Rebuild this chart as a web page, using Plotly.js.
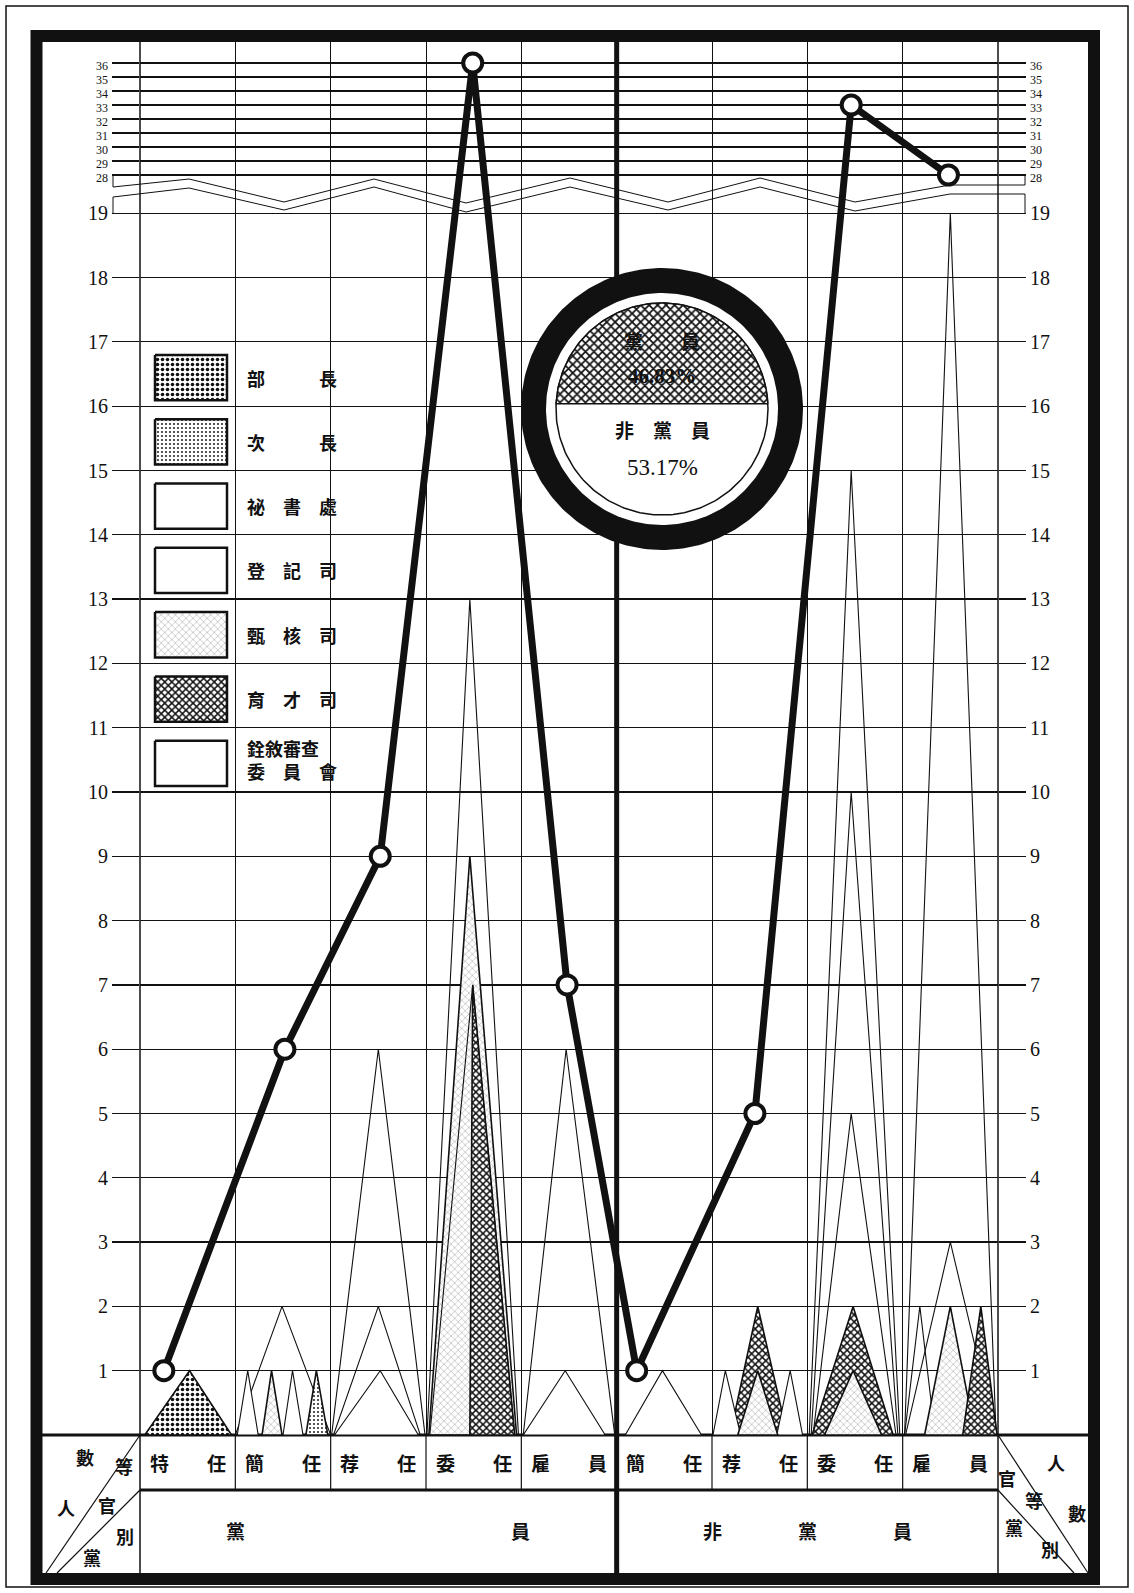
<!DOCTYPE html>
<html><head><meta charset="utf-8">
<script src="https://cdn.plot.ly/plotly-3.0.1.min.js"></script>
<style>html,body{margin:0;padding:0;background:#fff}</style>
</head><body>
<div id="chart" style="width:1134px;height:1593px"></div>
<script>
// ---------------- DATA ----------------
const groups = ['黨員', '非黨員'];
const groupColumns = [5, 4];
const ranks = ['特任', '簡任', '荐任', '委任', '雇員', '簡任', '荐任', '委任', '雇員'];
const totals = [1, 6, 9, 36, 7, 1, 5, 33, 28];
const sharePct = [46.83, 53.17];
const departments = ['部長', '次長', '祕書處', '登記司', '甄核司', '育才司', '銓敘審查委員會'];
const deptBuZhang  = [1, 0, 0, 0, 0, 0, 0, 0, 0];
const deptCiZhang  = [0, 1, 0, 0, 0, 0, 0, 0, 0];
const deptMishu    = [0, 1, 2, 7, 6, 1, 1, 10, 19];
const deptDengji   = [0, 2, 6, 13, 1, 0, 1, 15, 2];
const deptZhenhe   = [0, 1, 0, 9, 0, 0, 1, 1, 2];
const deptYucai    = [0, 0, 0, 7, 0, 0, 2, 2, 2];
const deptWeiyuan  = [0, 1, 1, 0, 0, 0, 0, 5, 3];
const lowTicks  = [1,2,3,4,5,6,7,8,9,10,11,12,13,14,15,16,17,18,19];
const highTicks = [28,29,30,31,32,33,34,35,36];
const cornerLeft  = ['數', '等', '人', '官', '別', '黨'];
const cornerRight = ['人', '官', '等', '數', '黨', '別'];

// ---------------- STYLE / GEOMETRY ----------------
const INK = '#111';
const CJK = '"Noto Sans CJK TC","Noto Sans CJK SC",sans-serif';
const SERIF = '"Liberation Serif","DejaVu Serif",serif';
const L = 140, R = 998, T = 42, B = 1435;          // plot area in px
const COLW = (R - L) / 9;
const UNIT = 64.3;                                  // px per person, lower part
const Y_TOP = (B - T) / UNIT;
const BREAK_LOW = 19, BREAK_HIGH = 28;
const HIGH_BASE = (B - 175) / UNIT, HIGH_STEP = 14 / UNIT;
function yd(v) { return v <= BREAK_LOW ? v : HIGH_BASE + (v - BREAK_HIGH) * HIGH_STEP; }
const px = X => (X - L) / (R - L);
const py = Y => (B - Y) / (B - T);

const deptValues = [deptBuZhang, deptCiZhang, deptMishu, deptDengji, deptZhenhe, deptYucai, deptWeiyuan];
// triangle geometry per department / column: [apex, left, right] as fraction of column width
const triShape = {
  0: {0: [0.52, 0.05, 0.96]},
  1: {1: [0.85, 0.74, 0.97]},
  2: {1: [0.13, 0.02, 0.24], 2: [0.5, 0.03, 0.94], 3: [0.49, 0.04, 0.93], 4: [0.47, 0.02, 0.98], 5: [0.48, 0.09, 0.89], 6: [0.14, 0.01, 0.3], 7: [0.46, 0.04, 0.95], 8: [0.5, 0.02, 0.98]},
  3: {1: [0.49, 0.0, 1.0], 2: [0.5, 0.01, 0.99], 3: [0.46, 0.01, 0.97], 4: [0.46, 0.02, 0.88], 6: [0.82, 0.68, 0.95], 7: [0.46, 0.02, 0.97], 8: [0.18, 0.02, 0.34]},
  4: {1: [0.38, 0.28, 0.49], 3: [0.46, 0.03, 0.95], 6: [0.48, 0.27, 0.69], 7: [0.48, 0.18, 0.78], 8: [0.5, 0.23, 0.76]},
  5: {3: [0.49, 0.46, 0.93], 6: [0.48, 0.19, 0.79], 7: [0.48, 0.05, 0.9], 8: [0.82, 0.63, 0.99]},
  6: {1: [0.6, 0.5, 0.71], 2: [0.52, 0.04, 0.92], 7: [0.46, 0.06, 0.93], 8: [0.5, 0.03, 0.98]}
};
const patterns = {
  0: {shape: '.', size: 5, solidity: 0.4},
  1: {shape: '.', size: 4, solidity: 0.18},
  4: {shape: 'x', size: 5, solidity: 0.08},
  5: {shape: 'x', size: 5, solidity: 0.5}
};
const pointFrac = [0.25, 0.52, 0.52, 0.49, 0.48, 0.21, 0.45, 0.46, 0.48];
const PIE = {cx: 662, cy: 409, rOuter: 141, rRing: 116, rInner: 106};

// ---------------- TRACES ----------------
const traces = [];
const tris = [];
deptValues.forEach((vals, d) => vals.forEach((v, c) => { if (v > 0) tris.push({d, c, v, g: triShape[d][c]}); }));
tris.sort((a, b) => (b.v - a.v) || ((patterns[a.d] ? 1 : 0) - (patterns[b.d] ? 1 : 0)));
tris.forEach(t => {
  const [ap, lf, rt] = t.g;
  const tr = {type: 'scatter', mode: 'lines', xaxis: 'x', yaxis: 'y',
    x: [t.c + lf, t.c + ap, t.c + rt, t.c + lf], y: [0, yd(t.v), 0, 0],
    fill: 'toself', line: {color: INK, width: 1.1}, hoverinfo: 'skip', showlegend: false};
  const p = patterns[t.d];
  if (p) { tr.fillcolor = 'white'; tr.fillpattern = Object.assign({fgcolor: INK, bgcolor: 'white', fillmode: 'replace'}, p); tr.line.width = 1.6; }
  else tr.fillcolor = t.v <= 1 ? 'white' : 'rgba(0,0,0,0)';
  traces.push(tr);
});

traces.push({type: 'scatter', mode: 'lines+markers', xaxis: 'x', yaxis: 'y',
  x: totals.map((_, i) => i + pointFrac[i]), y: totals.map(yd),
  line: {color: INK, width: 7}, marker: {symbol: 'circle', size: 19, color: 'white', line: {color: INK, width: 4}},
  hoverinfo: 'skip', showlegend: false});

// right axis carrier
traces.push({type: 'scatter', mode: 'markers', x: [0.5], y: [null], xaxis: 'x', yaxis: 'y3', showlegend: false, hoverinfo: 'skip'});

// legend swatches (pixel overlay axes)
const legendAnn = [];
departments.forEach((name, k) => {
  const top = B - (17 - k) * UNIT + 13, bot = B - (16 - k) * UNIT - 6;
  const tr = {type: 'scatter', mode: 'lines', xaxis: 'x2', yaxis: 'y2',
    x: [155, 227, 227, 155, 155], y: [top, top, bot, bot, top], fill: 'toself', fillcolor: 'white',
    line: {color: INK, width: 2.5}, hoverinfo: 'skip', showlegend: false};
  if (patterns[k]) tr.fillpattern = Object.assign({fgcolor: INK, bgcolor: 'white', fillmode: 'replace'}, patterns[k]);
  traces.push(tr);
  let txt, yc = (top + bot) / 2;
  if (name.length === 2) txt = name.split('').join('　　　');
  else if (name.length === 3) txt = name.split('').join('　');
  else { txt = name.slice(0, 4) + '<br>' + name.slice(4).split('').join('　'); yc -= 4; }
  legendAnn.push({x: px(245), y: py(yc), xref: 'paper', yref: 'paper', xanchor: 'left', yanchor: 'middle', showarrow: false, align: 'left',
    text: '<b>' + txt + '</b>', font: {family: CJK, size: 18, color: INK}});
});

// pie (circle split by chord of equal area ratio)
function circlePts(cx, cy, r) { const xs = [], ys = []; for (let i = 0; i <= 240; i++) { const a = 2 * Math.PI * i / 240; xs.push(cx + r * Math.cos(a)); ys.push(cy + r * Math.sin(a)); } return [xs, ys]; }
function disk(r, fill, lw) { const [xs, ys] = circlePts(PIE.cx, PIE.cy, r);
  return {type: 'scatter', mode: 'lines', xaxis: 'x2', yaxis: 'y2', x: xs, y: ys, fill: 'toself', fillcolor: fill,
    line: {color: INK, width: lw}, hoverinfo: 'skip', showlegend: false}; }
traces.push(disk(PIE.rOuter, INK, 0));
traces.push(disk(PIE.rRing, 'white', 0));
traces.push(disk(PIE.rInner, 'white', 1.5));
const target = sharePct[0] / (sharePct[0] + sharePct[1]);
let lo = 0, hi = 1;
for (let i = 0; i < 60; i++) { const t = (lo + hi) / 2; const f = (Math.acos(t) - t * Math.sqrt(1 - t * t)) / Math.PI; if (f > target) lo = t; else hi = t; }
const tChord = (lo + hi) / 2, phi0 = Math.asin(tChord);
const segX = [], segY = [];
for (let i = 0; i <= 120; i++) { const a = phi0 + (Math.PI - 2 * phi0) * i / 120; segX.push(PIE.cx + PIE.rInner * Math.cos(a)); segY.push(PIE.cy - PIE.rInner * Math.sin(a)); }
segX.push(segX[0]); segY.push(segY[0]);
traces.push({type: 'scatter', mode: 'lines', xaxis: 'x2', yaxis: 'y2', x: segX, y: segY, fill: 'toself', fillcolor: 'white',
  fillpattern: {shape: 'x', size: 6, solidity: 0.5, fgcolor: INK, bgcolor: 'white', fillmode: 'replace'},
  line: {color: INK, width: 1.5}, hoverinfo: 'skip', showlegend: false});

// ---------------- SHAPES ----------------
const shapes = [];
function seg(x0, y0, x1, y1, w) { shapes.push({type: 'line', xref: 'paper', yref: 'paper', x0: px(x0), y0: py(y0), x1: px(x1), y1: py(y1), line: {color: INK, width: w}, layer: 'below'}); }
function poly(pts, w) { shapes.push({type: 'path', xref: 'paper', yref: 'paper', layer: 'below', line: {color: INK, width: w},
  path: pts.map((p, i) => (i ? 'L' : 'M') + px(p[0]) + ',' + py(p[1])).join(' ')}); }
shapes.push({type: 'rect', xref: 'paper', yref: 'paper', x0: px(6), x1: px(1128), y0: py(6), y1: py(1587), line: {color: INK, width: 1.5}, layer: 'below'});
shapes.push({type: 'rect', xref: 'paper', yref: 'paper', x0: px(36.5), x1: px(1094), y0: py(36), y1: py(1579), line: {color: INK, width: 12}, layer: 'below'});
const divX = L + groupColumns[0] * COLW;
seg(42, B, 1088, B, 3);
seg(L, 1490, R, 1490, 3);
seg(L, T, L, 1573, 1.5);
seg(R, T, R, 1573, 1.5);
seg(divX, T, divX, 1573, 5);
[1, 2, 3, 4, 6, 7, 8].forEach(k => seg(L + k * COLW, B, L + k * COLW, 1490, 1.2));
seg(L, B, 46, 1573, 1.2); seg(L, 1490, 57, 1573, 1.2);
seg(R, B, 1088, 1573, 1.2); seg(R, 1490, 1074, 1573, 1.2);
// axis break zigzag and brackets
poly([[113,187],[189,179],[284,202],[374,179],[466,203],[570,178],[668,202],[760,178],[855,202],[950,185],[1025,185]], 1);
poly([[113,197],[189,188],[284,210],[374,187],[466,212],[570,187],[668,210],[760,187],[855,211],[950,194],[1025,194]], 1);
seg(113, 175, 113, 187, 1); seg(113, 197, 113, 213, 1);
seg(1025, 175, 1025, 185, 1); seg(1025, 194, 1025, 213, 1);

// ---------------- ANNOTATIONS ----------------
const ann = legendAnn.slice();
function txt(t, X, Y, size, fam) { ann.push({x: px(X), y: py(Y), xref: 'paper', yref: 'paper', xanchor: 'center', yanchor: 'middle', showarrow: false,
  text: t, font: {family: fam || CJK, size: size, color: INK}}); }
ranks.forEach((r, i) => txt('<b>' + r.split('').join('　　') + '</b>', L + (i + 0.5) * COLW, 1462, 19));
txt('<b>' + groups[0].split('').join('　'.repeat(14)) + '</b>', L + groupColumns[0] / 2 * COLW, 1530, 19);
txt('<b>' + groups[1].split('').join('　'.repeat(4)) + '</b>', divX + groupColumns[1] / 2 * COLW, 1530, 19);
const cornerLeftPos  = [[85,1457],[124,1466],[66,1507],[107,1505],[125,1536],[92,1557]];
const cornerRightPos = [[1056,1462],[1007,1478],[1034,1500],[1077,1513],[1014,1527],[1050,1549]];
cornerLeft.forEach((c, i) => txt('<b>' + c + '</b>', cornerLeftPos[i][0], cornerLeftPos[i][1], 18));
cornerRight.forEach((c, i) => txt('<b>' + c + '</b>', cornerRightPos[i][0], cornerRightPos[i][1], 18));
txt('<b>' + groups[0].split('').join('　　') + '</b>', PIE.cx, 340, 19);
txt('<b>' + sharePct[0].toFixed(2) + '%</b>', PIE.cx, 376, 21, SERIF);
txt('<b>' + groups[1].split('').join('　') + '</b>', PIE.cx, 430, 19);
txt(sharePct[1].toFixed(2) + '%', PIE.cx, 468, 23, SERIF);

// ---------------- LAYOUT ----------------
const tickVals = lowTicks.map(yd).concat(highTicks.map(yd));
const tickText = lowTicks.map(String).concat(highTicks.map(v => '<span style="font-size:12px">' + v + '</span>'));
const yBase = {range: [0, Y_TOP], tickmode: 'array', tickvals: tickVals, ticktext: tickText, ticks: 'outside', ticklen: 27,
  tickwidth: 1.2, tickcolor: INK, zeroline: false, showline: false, fixedrange: true,
  tickfont: {family: SERIF, size: 20, color: INK}};
const layout = {
  width: 1134, height: 1593, margin: {l: L, r: 1134 - R, t: T, b: 1593 - B}, showlegend: false,
  paper_bgcolor: 'white', plot_bgcolor: 'white',
  xaxis: {range: [0, 9], tickmode: 'array', tickvals: [1, 2, 3, 4, 6, 7, 8], showticklabels: false, ticks: '',
    showgrid: true, gridcolor: INK, gridwidth: 1, zeroline: false, showline: false, fixedrange: true},
  yaxis: Object.assign({}, yBase, {side: 'left', showgrid: true, gridcolor: INK, gridwidth: 1.2}),
  yaxis3: Object.assign({}, yBase, {side: 'right', overlaying: 'y', anchor: 'x', showgrid: false}),
  xaxis2: {overlaying: 'x', anchor: 'y2', range: [L, R], visible: false, fixedrange: true},
  yaxis2: {overlaying: 'y', anchor: 'x2', range: [B, T], visible: false, fixedrange: true},
  shapes: shapes, annotations: ann
};
Plotly.newPlot('chart', traces, layout, {staticPlot: true});
</script>
</body></html>
